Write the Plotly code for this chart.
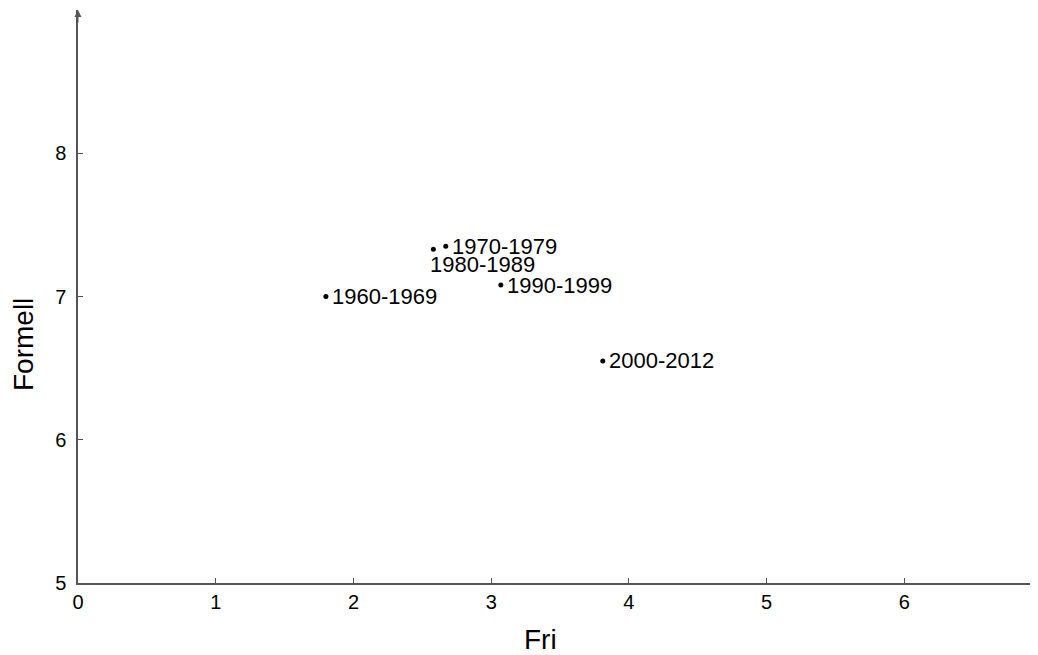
import plotly.graph_objects as go

periods = ["1960-1969", "1970-1979", "1980-1989", "1990-1999", "2000-2012"]
fri = [1.80, 2.67, 2.58, 3.07, 3.81]
formell = [7.00, 7.35, 7.33, 7.08, 6.55]
# label placement: "right" = beside the dot, "below" = under the dot
label_side = ["right", "right", "below", "right", "right"]

x_ticks = [0, 1, 2, 3, 4, 5, 6]
y_ticks = [5, 6, 7, 8]

FONT = "Liberation Sans, Arial, sans-serif"
AXIS_COLOR = "#555555"

# page has an 8px body margin; compensate so the plot lands at the reference pixels
OFF = 8
W, H = 1038 - OFF, 655 - OFF
L, T, B = 78 - OFF, 10 - OFF, 655 - 583
PW, PH = W - L, H - T - B

fig = go.Figure()
fig.add_trace(go.Scatter(
    x=fri, y=formell, mode="markers",
    marker=dict(size=5, color="black"),
    hoverinfo="skip", showlegend=False,
))

annotations = []
for px, py, lab, side in zip(fri, formell, periods, label_side):
    if side == "right":
        annotations.append(dict(x=px, y=py, xref="x", yref="y", text=lab, showarrow=False,
                                xanchor="left", yanchor="middle", xshift=4, yshift=0,
                                font=dict(family=FONT, size=22, color="black")))
    else:
        annotations.append(dict(x=px, y=py, xref="x", yref="y", text=lab, showarrow=False,
                                xanchor="left", yanchor="middle", xshift=-5, yshift=-15,
                                font=dict(family=FONT, size=22, color="black")))

annotations += [
    dict(text="Fri", xref="paper", yref="paper", x=(540 - 78) / PW, y=-(622 - 583) / PH,
         xanchor="center", yanchor="top", showarrow=False,
         font=dict(size=28, family=FONT, color="black")),
    dict(text="Formell", xref="paper", yref="paper", x=-(78 - 23) / PW,
         y=(583 - 345) / PH, xanchor="center", yanchor="middle", textangle=-90,
         showarrow=False, font=dict(size=28, family=FONT, color="black")),
    dict(x=0, y=9.0, xref="x", yref="y", ax=0, ay=8.9, axref="x", ayref="y",
         showarrow=True, arrowhead=2, arrowsize=1.4, arrowwidth=1,
         arrowcolor=AXIS_COLOR, text=""),
]

fig.update_layout(
    width=W, height=H,
    margin=dict(l=L, r=0, t=T, b=B, pad=0),
    plot_bgcolor="white", paper_bgcolor="white",
    font=dict(family=FONT, color="black"),
    xaxis=dict(range=[0, 6.97], tickvals=x_ticks, showgrid=False, zeroline=False,
               showline=True, linecolor=AXIS_COLOR, linewidth=1.5,
               ticks="inside", ticklen=5, tickcolor=AXIS_COLOR,
               tickfont=dict(size=20, color="black")),
    yaxis=dict(range=[5, 9.0], tickvals=y_ticks, showgrid=False, zeroline=False,
               showline=True, linecolor=AXIS_COLOR, linewidth=1.5,
               ticks="inside", ticklen=5, tickcolor=AXIS_COLOR,
               ticklabelstandoff=6,
               tickfont=dict(size=20, color="black")),
    annotations=annotations,
)

fig.write_html("out.html")
